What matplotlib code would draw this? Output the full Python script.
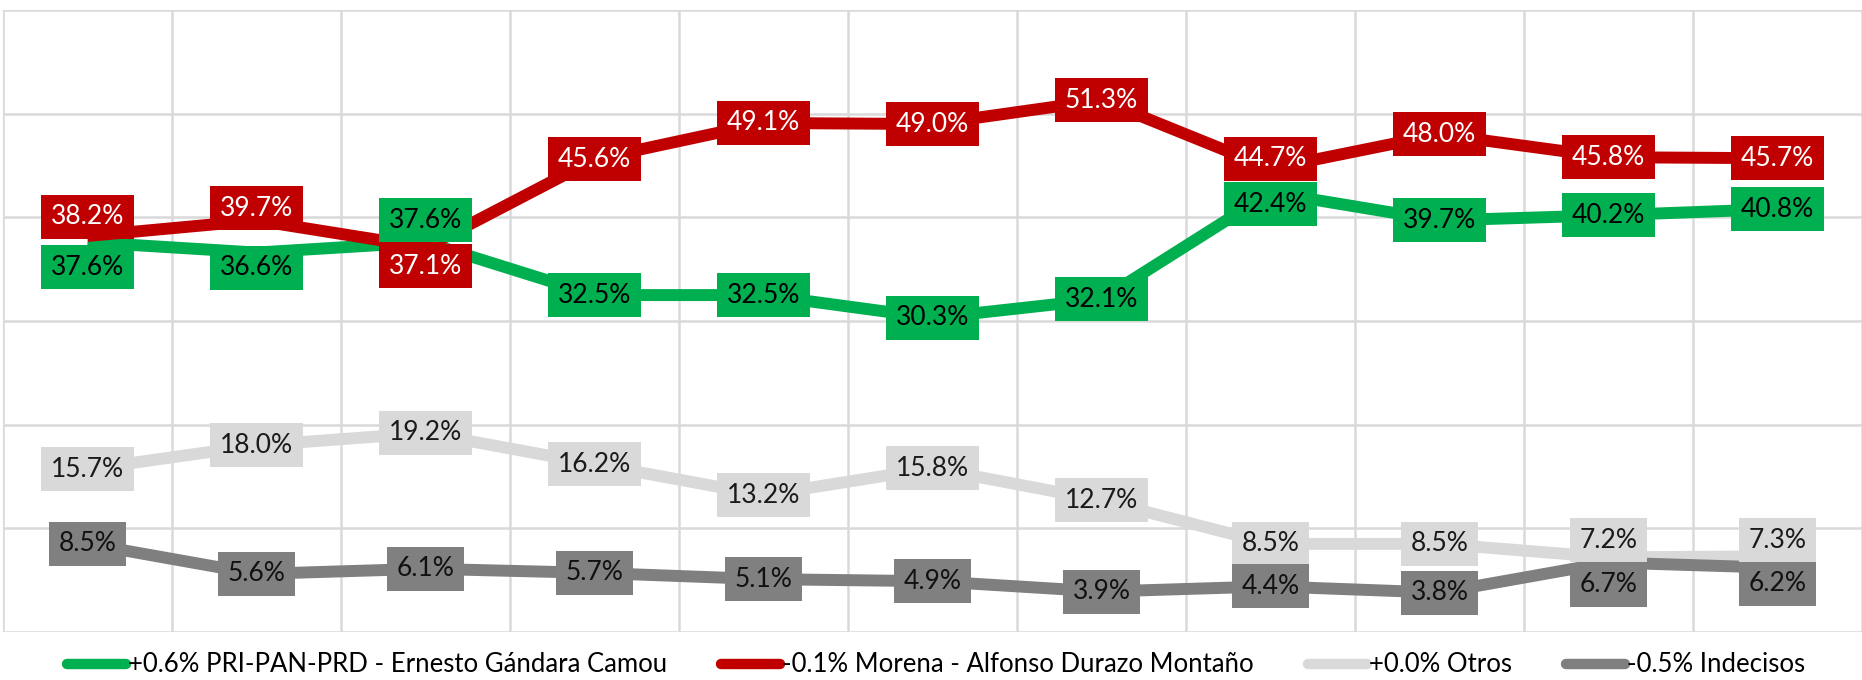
import matplotlib.pyplot as plt
from matplotlib.lines import Line2D

plt.rcParams['font.family'] = ['Lato', 'DejaVu Sans']

# survey rounds (no tick labels on the chart)
rounds = list(range(11))

gandara = [37.6, 36.6, 37.6, 32.5, 32.5, 30.3, 32.1, 42.4, 39.7, 40.2, 40.8]
durazo = [38.2, 39.7, 37.1, 45.6, 49.1, 49.0, 51.3, 44.7, 48.0, 45.8, 45.7]
otros = [15.7, 18.0, 19.2, 16.2, 13.2, 15.8, 12.7, 8.5, 8.5, 7.2, 7.3]
indecisos = [8.5, 5.6, 6.1, 5.7, 5.1, 4.9, 3.9, 4.4, 3.8, 6.7, 6.2]

legend_names = [
    "+0.6% PRI-PAN-PRD - Ernesto Gándara Camou",
    "-0.1% Morena - Alfonso Durazo Montaño",
    "+0.0% Otros",
    "-0.5% Indecisos",
]

# line colour, label box colour, label text colour
styles = [
    ("#00B050", "#00B050", "black"),
    ("#C00000", "#C00000", "white"),
    ("#D9D9D9", "#D9D9D9", "#1a1a1a"),
    ("#7F7F7F", "#808080", "#111111"),
]

# vertical label nudges (px, positive = up) where labels would collide
nudges = [
    [-25, -15, 22, 0, 0, 0, 0, -12, 0, 0, 0],
    [19, 12, -19, 0, 0, 0, 0, 10, 0, 0, 0],
    [0, 0, 0, 0, 0, 0, 0, 0, 0, 17, 16],
    [0, 0, 0, 0, 0, 0, 0, 0, 0, -22, -16],
]

W, H, DPI = 1862, 680, 100
fig = plt.figure(figsize=(W / DPI, H / DPI), dpi=DPI)
ax = fig.add_axes([3 / W, 1 - 632 / H, (W - 3) / W, 622 / H])

series = [gandara, durazo, otros, indecisos]
for i, vals in enumerate(series):
    ax.plot(rounds, vals, color=styles[i][0], lw=8.6, solid_joinstyle='miter',
            solid_capstyle='butt', zorder=3 + i)

for i, vals in enumerate(series):
    line_c, box_c, txt_c = styles[i]
    for x, v, dy in zip(rounds, vals, nudges[i]):
        ax.annotate(f"{v:.1f}%", (x, v), xytext=(0, dy * 0.72),
                    textcoords='offset points', ha='center', va='center',
                    fontsize=19, color=txt_c, zorder=10,
                    bbox=dict(boxstyle='square,pad=0.36', fc=box_c, ec='none'))

ax.set_xlim(-0.5, 10.5)
ax.set_ylim(0, 60)
ax.set_xticks([x - 0.5 for x in rounds] + [10.5])
ax.set_yticks(range(0, 61, 10))
ax.grid(True, color='#D9D9D9', lw=1.8)
ax.set_axisbelow(True)
ax.tick_params(length=0, labelbottom=False, labelleft=False)
for s in ax.spines.values():
    s.set_visible(False)

handles = [Line2D([0], [0], color=c[0], lw=7.5, solid_capstyle='round') for c in styles]
fig.legend(handles, legend_names, loc='center', bbox_to_anchor=(0.5027, 1 - 665 / H),
           ncol=4, frameon=False, fontsize=18.5, handlelength=2.3,
           handletextpad=0.08, columnspacing=2.1, borderpad=0, borderaxespad=0)

fig.savefig("out.png", dpi=DPI)
